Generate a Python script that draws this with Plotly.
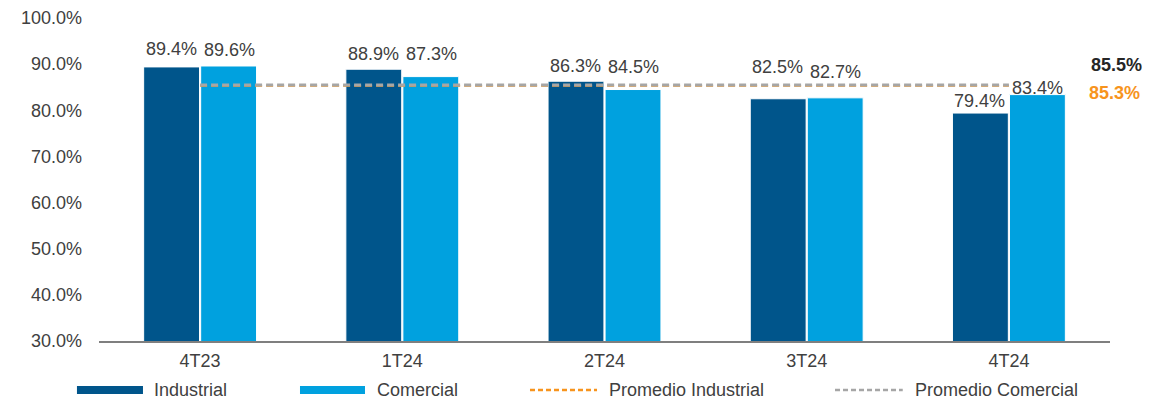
import plotly.graph_objects as go

categories = ["4T23", "1T24", "2T24", "3T24", "4T24"]
industrial = [89.4, 88.9, 86.3, 82.5, 79.4]
comercial = [89.6, 87.3, 84.5, 82.7, 83.4]
prom_industrial = 85.3
prom_comercial = 85.5
y_ticks = [30, 40, 50, 60, 70, 80, 90, 100]

# label placement (pixels above bar top, style only)
ind_label_shift = [18, 15, 15, 32, 12]
com_label_shift = [16, 23, 23, 26, 7]

C_IND = "#00558B"
C_COM = "#00A1DF"
C_PIND = "#F7941D"
C_PCOM = "#A6A6A6"
TXT = "#404040"
FONT = "Liberation Sans, Arial, sans-serif"
FS = 18

fig = go.Figure()
fig.add_trace(go.Bar(
    x=categories, y=industrial, name="Industrial", marker_color=C_IND,
    marker_line=dict(color="white", width=1),
))
fig.add_trace(go.Bar(
    x=categories, y=comercial, name="Comercial", marker_color=C_COM,
    marker_line=dict(color="white", width=1),
))
fig.add_trace(go.Scatter(
    x=categories, y=[prom_industrial] * len(categories), mode="lines",
    name="Promedio Industrial", line=dict(color=C_PIND, width=2, dash="7px,4px"),
))
fig.add_trace(go.Scatter(
    x=categories, y=[prom_comercial] * len(categories), mode="lines",
    name="Promedio Comercial", line=dict(color=C_PCOM, width=3, dash="7px,4px"),
))

# data labels
for vals, shifts, xs in ((industrial, ind_label_shift, -29), (comercial, com_label_shift, 29)):
    for c, v, s in zip(categories, vals, shifts):
        fig.add_annotation(x=c, y=v, xref="x", yref="y", text=f"{v:.1f}%",
                           showarrow=False, xanchor="center", yanchor="middle",
                           xshift=xs, yshift=s,
                           font=dict(size=FS, color=TXT, family=FONT))

# right-side average labels
fig.add_annotation(xref="paper", yref="paper", x=0.979, y=0.854, xanchor="left",
                   yanchor="middle", text=f"<b>{prom_comercial:.1f}%</b>", showarrow=False,
                   font=dict(size=FS, color="#262626", family=FONT))
fig.add_annotation(xref="paper", yref="paper", x=0.977, y=0.768, xanchor="left",
                   yanchor="middle", text=f"<b>{prom_industrial:.1f}%</b>", showarrow=False,
                   font=dict(size=FS, color=C_PIND, family=FONT))

# manual legend
legend_items = [
    ("Industrial", C_IND, -0.0218, 0.0435, 0.0524, 8, None),
    ("Comercial", C_COM, 0.1988, 0.2631, 0.273, 8, None),
    ("Promedio Industrial", C_PIND, 0.4263, 0.4926, 0.5025, 2.5, "5px,3px"),
    ("Promedio Comercial", C_PCOM, 0.728, 0.795, 0.805, 2.5, "5px,3px"),
]
ly = -0.152
for name, col, x0, x1, xt, w, dash in legend_items:
    line = dict(color=col, width=w)
    if dash:
        line["dash"] = dash
    fig.add_shape(type="line", xref="paper", yref="paper", x0=x0, x1=x1, y0=ly, y1=ly,
                  line=line)
    fig.add_annotation(xref="paper", yref="paper", x=xt, y=ly, xanchor="left",
                       yanchor="middle", text=name, showarrow=False,
                       font=dict(size=FS, color=TXT, family=FONT))

fig.update_layout(
    width=1162, height=395,
    margin=dict(l=91, r=60, t=10, b=62, autoexpand=False),
    plot_bgcolor="white", paper_bgcolor="white",
    barmode="group", bargap=0.436, bargroupgap=0.02,
    showlegend=False,
    font=dict(family=FONT, size=FS, color=TXT),
)
fig.update_xaxes(
    type="category", showgrid=False, showline=True, linecolor="#7F7F7F", linewidth=1.5,
    ticks="", tickfont=dict(size=FS, color=TXT), ticklabelstandoff=3, automargin=False,
)
fig.update_yaxes(
    range=[30, 100], tickvals=y_ticks, ticktext=[f"{v:.1f}%" for v in y_ticks],
    showgrid=False, zeroline=False, showline=False, ticks="",
    tickfont=dict(size=FS, color=TXT), ticklabelstandoff=16, automargin=False,
)

fig.write_html("out.html")
